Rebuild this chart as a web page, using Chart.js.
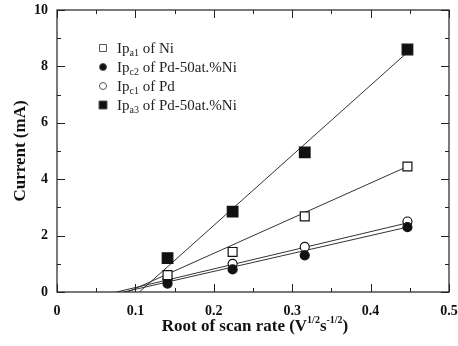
<!DOCTYPE html>
<html>
<head>
<meta charset="utf-8">
<script src="https://cdn.jsdelivr.net/npm/chart.js@4"></script>
<style>
  html, body { margin: 0; padding: 0; background: #fff; }
  #wrap { width: 458px; height: 346px; }
</style>
</head>
<body>
<div id="wrap"><canvas id="ipChart"></canvas></div>
<script>
// root of scan rate (V^1/2 s^-1/2)
var scanRoot = [0.141, 0.224, 0.316, 0.447];

// peak currents (mA)
var ipa1Ni = [0.6, 1.42, 2.68, 4.45];
var ipc2PdNi = [0.3, 0.8, 1.3, 2.3];
var ipc1Pd = [0.45, 1.0, 1.6, 2.5];
var ipa3PdNi = [1.2, 2.85, 4.95, 8.6];

// linear fit end points [x0, y0, x1, y1]
var fitIpa1 = [0.09, 0, 0.447, 4.45];
var fitIpc2 = [0.085, 0, 0.447, 2.3];
var fitIpc1 = [0.076, 0, 0.447, 2.45];
var fitIpa3 = [0.105, 0, 0.447, 8.5];

var legendMain = ['Ip', 'Ip', 'Ip', 'Ip'];
var legendSub = ['a1', 'c2', 'c1', 'a3'];
var legendRest = [' of Ni', ' of Pd-50at.%Ni', ' of Pd', ' of Pd-50at.%Ni'];

var xTicks = [0, 0.1, 0.2, 0.3, 0.4, 0.5];
var yTicks = [0, 2, 4, 6, 8, 10];

var serif = '"Liberation Serif", "DejaVu Serif", serif';

function pts(xs, ys) {
  return xs.map(function(x, i) { return {x: x, y: ys[i]}; });
}
function fitPts(f) {
  return [{x: f[0], y: f[1]}, {x: f[2], y: f[3]}];
}

function markerSet(data, style, filled, size) {
  return {
    type: 'scatter',
    data: data,
    showLine: false,
    pointStyle: style,
    pointRadius: size,
    pointBackgroundColor: filled ? '#111' : '#fff',
    pointBorderColor: '#111',
    pointBorderWidth: 1.2,
    order: 1
  };
}
function fitSet(data) {
  return {
    type: 'line',
    data: data,
    borderColor: '#333',
    borderWidth: 1,
    pointRadius: 0,
    fill: false,
    order: 2
  };
}

var markerStyles = [['rect', false], ['circle', true], ['circle', false], ['rect', true]];

var framePlugin = {
  id: 'framePlugin',
  afterDraw: function(chart) {
    var ctx = chart.ctx;
    var a = chart.chartArea;
    var xs = chart.scales.x, ys = chart.scales.y;
    ctx.save();
    ctx.strokeStyle = '#222';
    ctx.lineWidth = 1.2;
    ctx.strokeRect(a.left, a.top, a.right - a.left, a.bottom - a.top);
    ctx.lineWidth = 1;
    // inward ticks, majors and minors
    for (var v = 0; v <= 0.5001; v += 0.05) {
      var px = Math.round(xs.getPixelForValue(v)) + 0.5;
      var len = (Math.round(v * 100) % 10 === 0) ? 8 : 4;
      ctx.beginPath();
      ctx.moveTo(px, a.bottom); ctx.lineTo(px, a.bottom - len);
      ctx.moveTo(px, a.top); ctx.lineTo(px, a.top + len);
      ctx.stroke();
    }
    for (var w = 0; w <= 10; w += 1) {
      var py = Math.round(ys.getPixelForValue(w)) + 0.5;
      var l2 = (w % 2 === 0) ? 8 : 4;
      ctx.beginPath();
      ctx.moveTo(a.left, py); ctx.lineTo(a.left + l2, py);
      ctx.moveTo(a.right, py); ctx.lineTo(a.right - l2, py);
      ctx.stroke();
    }

    // legend
    var lx = 103, ly = [48, 67, 86, 105];
    for (var i = 0; i < 4; i++) {
      var ms = markerStyles[i];
      ctx.fillStyle = ms[1] ? '#111' : '#fff';
      ctx.strokeStyle = '#555';
      ctx.beginPath();
      if (ms[0] === 'rect') {
        var s = ms[1] ? 8 : 7;
        ctx.rect(lx - s / 2, ly[i] - s / 2, s, s);
      } else {
        ctx.arc(lx, ly[i], 3.5, 0, Math.PI * 2);
      }
      ctx.fill(); ctx.stroke();
      ctx.fillStyle = '#222';
      ctx.textBaseline = 'alphabetic';
      ctx.textAlign = 'left';
      var tx = lx + 14;
      ctx.font = '15px ' + serif;
      ctx.fillText(legendMain[i], tx, ly[i] + 5);
      tx += ctx.measureText(legendMain[i]).width;
      ctx.font = '10px ' + serif;
      ctx.fillText(legendSub[i], tx, ly[i] + 8);
      tx += ctx.measureText(legendSub[i]).width;
      ctx.font = '15px ' + serif;
      ctx.fillText(legendRest[i], tx, ly[i] + 5);
    }

    // x axis title with superscripts
    var parts = [['Root of scan rate (V', 0], ['1/2', 1], ['s', 0], ['-1/2', 1], [')', 0]];
    var total = 0;
    parts.forEach(function(p) {
      ctx.font = 'bold ' + (p[1] ? 10 : 17) + 'px ' + serif;
      total += ctx.measureText(p[0]).width;
    });
    var x0 = 255 - total / 2, base = 331;
    ctx.fillStyle = '#111';
    parts.forEach(function(p) {
      ctx.font = 'bold ' + (p[1] ? 10 : 17) + 'px ' + serif;
      ctx.fillText(p[0], x0, p[1] ? base - 8 : base);
      x0 += ctx.measureText(p[0]).width;
    });
    ctx.restore();
  }
};

new Chart(document.getElementById('ipChart'), {
  data: {
    datasets: [
      markerSet(pts(scanRoot, ipa1Ni), 'rect', false, 6.3),
      markerSet(pts(scanRoot, ipc2PdNi), 'circle', true, 4.5),
      markerSet(pts(scanRoot, ipc1Pd), 'circle', false, 4.5),
      markerSet(pts(scanRoot, ipa3PdNi), 'rect', true, 7.5),
      fitSet(fitPts(fitIpa1)),
      fitSet(fitPts(fitIpc2)),
      fitSet(fitPts(fitIpc1)),
      fitSet(fitPts(fitIpa3))
    ]
  },
  options: {
    responsive: true,
    maintainAspectRatio: false,
    animation: false,
    layout: { padding: { top: 10, right: 9, left: 0, bottom: 0 } },
    plugins: { legend: { display: false }, tooltip: { enabled: false } },
    scales: {
      x: {
        type: 'linear', min: 0, max: 0.5,
        afterBuildTicks: function(s) { s.ticks = xTicks.map(function(v) { return {value: v}; }); },
        afterFit: function(s) { s.height = 54; s.paddingRight = 0; s.paddingLeft = 0; },
        grid: { display: false, drawTicks: false },
        border: { display: false },
        ticks: {
          color: '#111', padding: 11,
          font: { family: serif, size: 14, weight: 'bold' },
          callback: function(v) { return String(v); }
        }
      },
      y: {
        min: 0, max: 10,
        afterBuildTicks: function(s) { s.ticks = yTicks.map(function(v) { return {value: v}; }); },
        afterFit: function(s) { s.width = 57; s.paddingTop = 0; s.paddingBottom = 0; },
        grid: { display: false, drawTicks: false },
        border: { display: false },
        ticks: {
          color: '#111', padding: 9,
          font: { family: serif, size: 14, weight: 'bold' }
        },
        title: {
          display: true, text: 'Current (mA)', color: '#111',
          font: { family: serif, size: 17, weight: 'bold' },
          padding: { top: 10, bottom: 0 }
        }
      }
    }
  },
  plugins: [framePlugin]
});
</script>
</body>
</html>
